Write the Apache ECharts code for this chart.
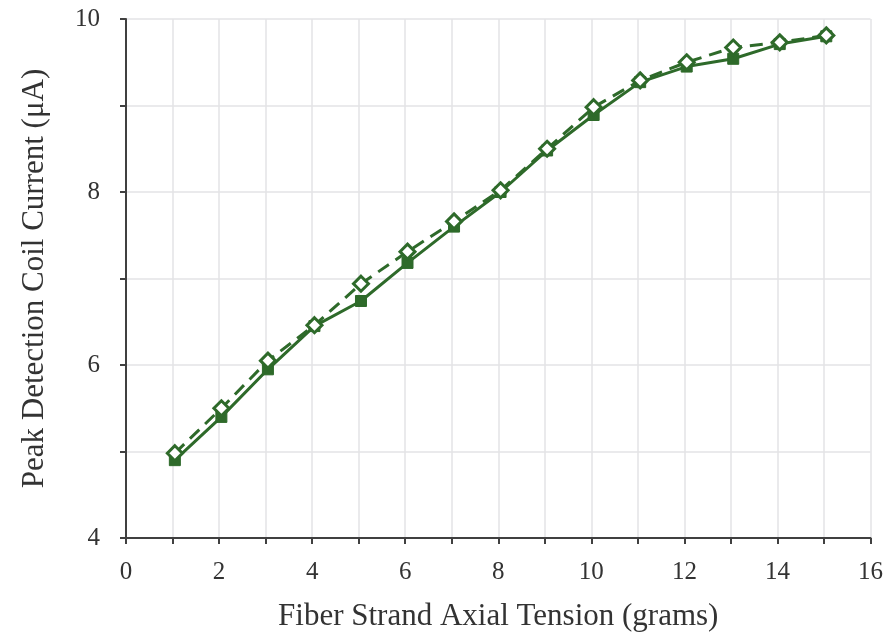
<!DOCTYPE html>
<html>
<head>
<meta charset="utf-8">
<script src="https://cdn.jsdelivr.net/npm/echarts@6/dist/echarts.min.js"></script>
<style>
  html, body { margin: 0; padding: 0; background: #fff; }
  #main { width: 886px; height: 637px; }
</style>
</head>
<body>
<div id="main"></div>
<script>
// tension (grams) at each measurement
var tension = [1.05, 2.05, 3.05, 4.05, 5.05, 6.05, 7.05, 8.05, 9.05, 10.05, 11.05, 12.05, 13.05, 14.05, 15.05];
// solid line, filled squares
var currentSolid = [4.9, 5.4, 5.95, 6.45, 6.74, 7.18, 7.6, 8.0, 8.48, 8.89, 9.27, 9.45, 9.54, 9.71, 9.8];
// dashed line, open diamonds
var currentDashed = [4.98, 5.5, 6.05, 6.46, 6.94, 7.31, 7.66, 8.02, 8.5, 8.98, 9.29, 9.5, 9.67, 9.73, 9.81];

var green = "#2e6a2a";
var axisColor = "#404040";

function pairs(xs, ys) {
  var out = [];
  for (var i = 0; i < xs.length; i++) {
    out.push([xs[i], ys[i]]);
  }
  return out;
}

var chart = echarts.init(document.getElementById("main"));
chart.setOption({
  animation: false,
  textStyle: {
    fontFamily: "Liberation Serif"
  },
  grid: {
    left: 126,
    right: 14,
    top: 19,
    bottom: 97
  },
  xAxis: {
    type: "value",
    min: 0,
    max: 16,
    interval: 1,
    name: "Fiber Strand Axial Tension (grams)",
    nameLocation: "middle",
    nameGap: 63,
    nameTextStyle: {
      color: "#333",
      fontSize: 31,
      fontFamily: "Liberation Serif"
    },
    axisLine: {
      show: true,
      lineStyle: { color: axisColor, width: 2 }
    },
    axisTick: {
      show: true,
      length: 6,
      lineStyle: { color: axisColor, width: 2 }
    },
    axisLabel: {
      color: "#333",
      fontSize: 25,
      margin: 22,
      formatter: function (v) {
        return v % 2 === 0 ? String(v) : "";
      }
    },
    splitLine: {
      show: true,
      lineStyle: { color: "#e3e3e6", width: 1.5 }
    }
  },
  yAxis: {
    type: "value",
    min: 4,
    max: 10,
    interval: 1,
    name: "Peak Detection Coil Current (μA)",
    nameLocation: "middle",
    nameGap: 76,
    nameTextStyle: {
      color: "#333",
      fontSize: 31,
      fontFamily: "Liberation Serif"
    },
    axisLine: {
      show: true,
      lineStyle: { color: axisColor, width: 2 }
    },
    axisTick: {
      show: true,
      length: 6,
      lineStyle: { color: axisColor, width: 2 }
    },
    axisLabel: {
      color: "#333",
      fontSize: 25,
      margin: 26,
      formatter: function (v) {
        return v % 2 === 0 ? String(v) : "";
      }
    },
    splitLine: {
      show: true,
      lineStyle: { color: "#e3e3e6", width: 1.5 }
    }
  },
  series: [
    {
      name: "solid",
      type: "line",
      data: pairs(tension, currentSolid),
      symbol: "rect",
      symbolSize: 11,
      itemStyle: { color: green, borderColor: green, borderWidth: 1 },
      lineStyle: { color: green, width: 3 },
      z: 2
    },
    {
      name: "dashed",
      type: "line",
      data: pairs(tension, currentDashed),
      symbol: "diamond",
      symbolSize: 15,
      itemStyle: { color: "#ffffff", borderColor: green, borderWidth: 3 },
      lineStyle: { color: green, width: 3, type: [13, 8] },
      z: 3
    }
  ]
});
</script>
</body>
</html>
